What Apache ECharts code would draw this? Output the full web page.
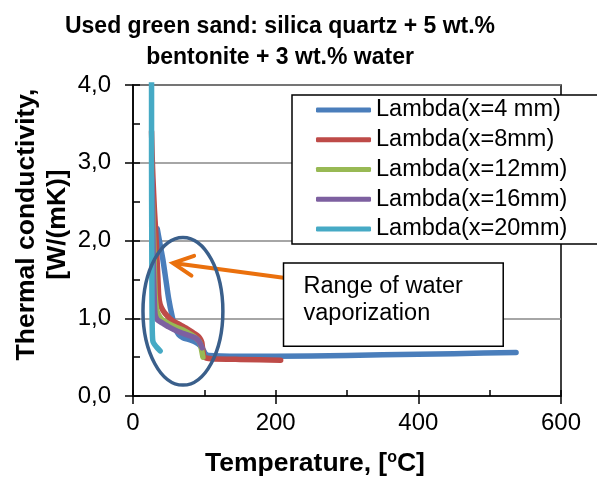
<!DOCTYPE html>
<html><head><meta charset="utf-8">
<script src="https://cdn.jsdelivr.net/npm/echarts@6/dist/echarts.min.js"></script>
<style>html,body{margin:0;padding:0;background:#fff}#c{width:597px;height:482px}</style>
</head><body><div id="c"></div>
<script>
// ---- data ----
const titleText = 'Used green sand: silica quartz + 5 wt.%\nbentonite + 3 wt.% water';
const xAxisTitle = 'Temperature, [{sup|o}C]';
const yAxisTitle = 'Thermal conductivity,\n[W/(mK)]';
const xTickValues = [0, 200, 400, 600];
const xTickLabels = ['0', '200', '400', '600'];
const yTickValues = [0, 1, 2, 3, 4];
const yTickLabels = ['0,0', '1,0', '2,0', '3,0', '4,0'];
const seriesNames = ['Lambda(x=4 mm)', 'Lambda(x=8mm)', 'Lambda(x=12mm)', 'Lambda(x=16mm)', 'Lambda(x=20mm)'];

const temp4   = [34, 38, 42, 46, 50, 55, 59, 64, 70, 80, 88, 94, 98, 101, 106, 150, 250, 350, 450, 537];
const lambda4 = [2.15, 1.95, 1.75, 1.5, 1.25, 1.02, 0.88, 0.79, 0.75, 0.72, 0.69, 0.65, 0.6, 0.55, 0.52, 0.51, 0.515, 0.53, 0.545, 0.56];

const temp8   = [26, 27, 28, 30, 32, 33.5, 35, 36, 38, 42, 48, 55, 65, 75, 85, 90, 94, 96.5, 98, 100, 110, 150, 207];
const lambda8 = [3.4, 3.05, 2.8, 2.4, 2.1, 1.8, 1.5, 1.3, 1.18, 1.1, 1.03, 0.97, 0.92, 0.87, 0.81, 0.78, 0.74, 0.69, 0.58, 0.5, 0.48, 0.47, 0.46];

const temp12   = [27, 29, 30, 31, 33, 36, 41, 50, 59, 70, 83, 90, 94, 96, 97, 98];
const lambda12 = [2.6, 2.0, 1.6, 1.3, 1.12, 1.04, 0.98, 0.93, 0.89, 0.85, 0.78, 0.73, 0.68, 0.6, 0.55, 0.5];

const temp16   = [26.5, 28, 29, 30, 31, 34, 41, 50, 63, 75, 87, 92, 95, 97];
const lambda16 = [2.8, 2.0, 1.5, 1.2, 1.05, 0.98, 0.94, 0.89, 0.83, 0.79, 0.75, 0.71, 0.66, 0.62];

const temp20   = [26, 26, 26.3, 26.6, 27, 28, 33, 38];
const lambda20 = [4.4, 3.0, 2.0, 1.2, 0.85, 0.7, 0.63, 0.58];

// annotation anchors in data units [temperature, lambda]
const ellipseCenter = [70, 1.09];
const ellipseRadius = [56, 0.95];
const arrowStart = [211, 1.52];
const arrowTip = [56, 1.71];
const noteTopLeft = [211, 1.71];
const noteBottomRight = [519, 0.64];
const noteText = 'Range of water\nvaporization';

// ---- styles ----
const FONT = "'Liberation Sans', Arial, sans-serif";
const colors = ['#4A7EBB', '#BE4B48', '#98B954', '#7D60A0', '#46AAC5'];
const temps = [temp4, temp8, temp12, temp16, temp20];
const lambdas = [lambda4, lambda8, lambda12, lambda16, lambda20];

const chart = echarts.init(document.getElementById('c'), null, {renderer: 'canvas'});

const series = seriesNames.map((n, i) => ({
  name: n,
  type: 'line',
  xAxisIndex: 0, yAxisIndex: 0,
  data: temps[i].map((t, k) => [t, lambdas[i][k]]),
  showSymbol: false, symbol: 'none',
  smooth: 0.2,
  clip: true,
  color: colors[i],
  itemStyle: {color: colors[i]},
  lineStyle: {width: 5.5, color: colors[i], cap: 'round', join: 'round'},
  emphasis: {disabled: true},
  z: 2 + i
}));

const fmt = (vals, labels) => v => {
  const idx = vals.findIndex(x => Math.abs(x - v) < 1e-9);
  return idx >= 0 ? labels[idx] : '';
};

const option = {
  animation: false,
  backgroundColor: '#fff',
  title: {
    text: titleText, left: 280, top: 11, textAlign: 'center', padding: 0,
    textStyle: {fontFamily: FONT, fontSize: 23, fontWeight: 'bold', lineHeight: 31, color: '#000'}
  },
  grid: {left: 133, right: 36, top: 85, bottom: 86, show: true, borderColor: '#000', borderWidth: 1.5,
         backgroundColor: 'transparent', containLabel: false, outerBoundsMode: 'none'},
  legend: {
    orient: 'vertical', left: 292, top: 95,
    padding: [3, 32, 3, 24], itemGap: 5.75, itemWidth: 55, itemHeight: 5,
    icon: 'roundRect',
    backgroundColor: '#fff', borderColor: '#000', borderWidth: 1.5, borderRadius: 0,
    textStyle: {fontFamily: FONT, fontSize: 23.5, color: '#000', lineHeight: 24},
    data: seriesNames, selectedMode: false, z: 10
  },
  xAxis: [{
    type: 'value', min: 0, max: 600, interval: 200, position: 'bottom',
    name: xAxisTitle, nameLocation: 'middle', nameGap: 54, nameMoveOverlap: false,
    nameTextStyle: {fontFamily: FONT, fontSize: 26.5, fontWeight: 'bold', color: '#000', lineHeight: 27,
      padding: [0, 64, 0, 0],
      rich: {sup: {fontFamily: FONT, fontSize: 16, fontWeight: 'bold', color: '#000', lineHeight: 16, verticalAlign: 'top'}}},
    axisLine: {show: true, onZero: false, lineStyle: {color: '#000', width: 1.5}},
    axisTick: {show: true, inside: false, length: 8, lineStyle: {color: '#000', width: 1.5}},
    axisLabel: {formatter: fmt(xTickValues, xTickLabels), fontFamily: FONT, fontSize: 24, color: '#000', margin: 15},
    splitLine: {show: false}
  }, {
    type: 'value', min: 0, max: 600, interval: 100, position: 'bottom',
    axisLine: {show: false}, axisLabel: {show: false}, splitLine: {show: false},
    axisTick: {show: true, inside: true, length: 6, lineStyle: {color: '#000', width: 1.5}}
  }],
  yAxis: [{
    type: 'value', min: 0, max: 4, interval: 1, position: 'left',
    name: yAxisTitle, nameLocation: 'middle', nameGap: 60, nameRotate: 90, nameMoveOverlap: false,
    nameTextStyle: {fontFamily: FONT, fontSize: 26.5, fontWeight: 'bold', color: '#000', lineHeight: 31, padding: [0, 0, 0, 32]},
    axisLine: {show: true, onZero: false, lineStyle: {color: '#000', width: 1.5}},
    axisTick: {show: true, inside: false, length: 8, lineStyle: {color: '#000', width: 1.5}},
    axisLabel: {formatter: fmt(yTickValues, yTickLabels), fontFamily: FONT, fontSize: 24, color: '#000', margin: 22},
    splitLine: {show: true, lineStyle: {color: '#898989', width: 1.5}}
  }, {
    type: 'value', min: 0, max: 4, interval: 0.5, position: 'left',
    axisLine: {show: false}, axisLabel: {show: false}, splitLine: {show: false},
    axisTick: {show: true, inside: true, length: 7, lineStyle: {color: '#000', width: 1.5}}
  }],
  series: series
};
chart.setOption(option);

// ---- annotations positioned through the chart's own scales ----
const px = p => chart.convertToPixel({xAxisIndex: 0, yAxisIndex: 0}, p);
const c = px(ellipseCenter);
const rxp = px([ellipseCenter[0] + ellipseRadius[0], ellipseCenter[1]])[0] - c[0];
const ryp = c[1] - px([ellipseCenter[0], ellipseCenter[1] + ellipseRadius[1]])[1];
const a0 = px(arrowStart), a1 = px(arrowTip);
const dx = a1[0] - a0[0], dy = a1[1] - a0[1], len = Math.hypot(dx, dy);
const ux = dx / len, uy = dy / len, nx = -uy, ny = ux;
const headL = 20, headW = 10;
const h1 = [a1[0] - headL * ux + headW * nx, a1[1] - headL * uy + headW * ny];
const h2 = [a1[0] - headL * ux - headW * nx, a1[1] - headL * uy - headW * ny];
const b0 = px(noteTopLeft), b1 = px(noteBottomRight);
const orange = '#EA700D';

chart.setOption({
  graphic: [
    {type: 'line', z: 50, shape: {x1: a0[0], y1: a0[1], x2: a1[0] - ux * 2, y2: a1[1] - uy * 2},
     style: {stroke: orange, lineWidth: 4, lineCap: 'round'}},
    {type: 'polyline', z: 50, shape: {points: [h1, a1, h2]},
     style: {stroke: orange, lineWidth: 4, lineCap: 'round', lineJoin: 'miter', fill: null}},
    {type: 'rect', z: 60, shape: {x: b0[0], y: b0[1], width: b1[0] - b0[0], height: b1[1] - b0[1]},
     style: {fill: '#fff', stroke: '#000', lineWidth: 1.5}},
    {type: 'text', z: 61, x: b0[0] + 20, y: b0[1] + 10,
     style: {text: noteText, fontFamily: FONT, fontSize: 23.5, lineHeight: 27, fill: '#000', align: 'left', verticalAlign: 'top'}},
    {type: 'ellipse', z: 55, shape: {cx: c[0], cy: c[1], rx: rxp, ry: ryp},
     style: {fill: null, stroke: '#3A5F8B', lineWidth: 3.5}}
  ]
});
</script>
</body></html>
